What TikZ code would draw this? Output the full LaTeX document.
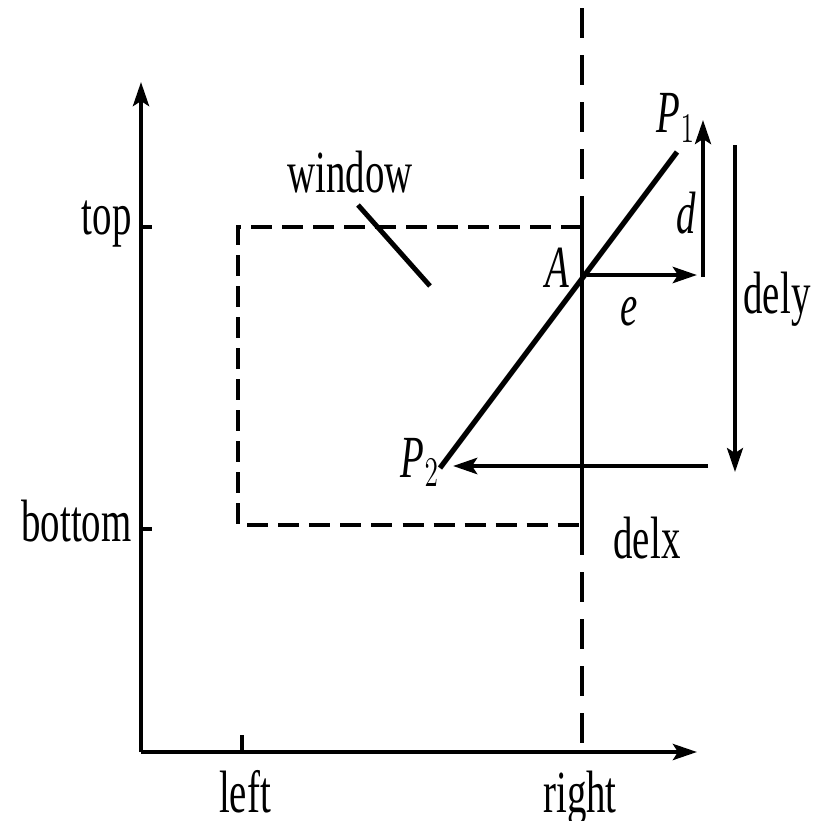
\documentclass[tikz,border=0pt]{standalone}
\usepackage{fontspec}
\setmainfont{Liberation Serif}
\usetikzlibrary{arrows.meta}
\tikzset{
  lbl/.style={xscale=0.65,font=\fontsize{17}{20}\selectfont,inner sep=0pt},
  tip/.style={-{Stealth[length=0.24cm,width=0.16cm,inset=0.05cm]}},
  axis/.style={line width=1.2pt,tip},
  winedge/.style={line width=1.1pt,dash pattern=on 0.21cm off 0.1cm},
  rightedge/.style={line width=0.95pt,dash pattern=on 0.3cm off 0.17cm}
}
\begin{document}
\begin{tikzpicture}[x=0.01cm,y=-0.01cm]
  \useasboundingbox (0,0) rectangle (819,821);
  % axes
  \coordinate (O) at (141,752);
  \coordinate (ytip) at (141,82);
  \coordinate (xtip) at (697,752);
  \draw[axis] (O) -- (ytip);
  \draw[axis] (O) -- (xtip);
  % ticks
  \coordinate (ttop) at (141,227);
  \coordinate (tbot) at (141,529);
  \coordinate (tleft) at (242,752);
  \draw[line width=1.2pt] (ttop) -- ++(11,0);
  \draw[line width=1.2pt] (tbot) -- ++(11,0);
  \draw[line width=1.2pt] (tleft) -- ++(0,-17);
  \node[lbl,anchor=base east] (top) at (132,234) {top};
  \node[lbl,anchor=base east] (bottom) at (132,541) {bottom};
  \node[lbl,anchor=base] (left) at (245,812) {left};
  \node[lbl,anchor=base] (right) at (580,812) {right};
  % window
  \coordinate (wtl) at (238,227);
  \coordinate (wtr) at (582,227);
  \coordinate (wbl) at (238,525);
  \coordinate (wbr) at (582,525);
  \draw[winedge] (wtr) -- (wtl) -- (wbl) -- (wbr);
  \coordinate (rtop) at (582,8);
  \draw[rightedge] (rtop) -- (582,752);
  \draw[line width=0.95pt] (582,205) -- (582,530);
  \node[lbl,anchor=base] (window) at (350,192) {window};
  \coordinate (pa) at (358,205);
  \coordinate (pb) at (430,286);
  \draw[line width=1.4pt] (pa) -- (pb);
  % the line P1 P2
  \coordinate (P1) at (677,152);
  \coordinate (P2) at (440,468);
  \coordinate (A) at (582,277);
  \draw[line width=1.5pt] (P1) -- (P2);
  \node[lbl,anchor=base] (p1) at (676,133) {\textit{P}$_1$};
  \node[lbl,anchor=base] (p2) at (420,477) {\textit{P}$_2$};
  \node[lbl,anchor=base] (a) at (557,287) {\textit{A}};
  % e and d
  \coordinate (e0) at (587,275);
  \coordinate (e1) at (697,275);
  \draw[line width=1.4pt,tip] (e0) -- (e1);
  \node[lbl,anchor=base] (e) at (629,325) {\textit{e}};
  \coordinate (d0) at (703,277);
  \coordinate (d1) at (703,120);
  \draw[line width=1.1pt,tip] (d0) -- (d1);
  \node[lbl,anchor=base] (d) at (686,233) {\textit{d}};
  % dely and delx
  \coordinate (dy0) at (735,145);
  \coordinate (dy1) at (735,472);
  \draw[line width=0.9pt,tip] (dy0) -- (dy1);
  \node[lbl,anchor=base] (dely) at (777,313) {dely};
  \coordinate (dx0) at (708,466);
  \coordinate (dx1) at (453,466);
  \draw[line width=1.4pt,tip] (dx0) -- (dx1);
  \node[lbl,anchor=base] (delx) at (647,558) {delx};
\end{tikzpicture}
\end{document}
